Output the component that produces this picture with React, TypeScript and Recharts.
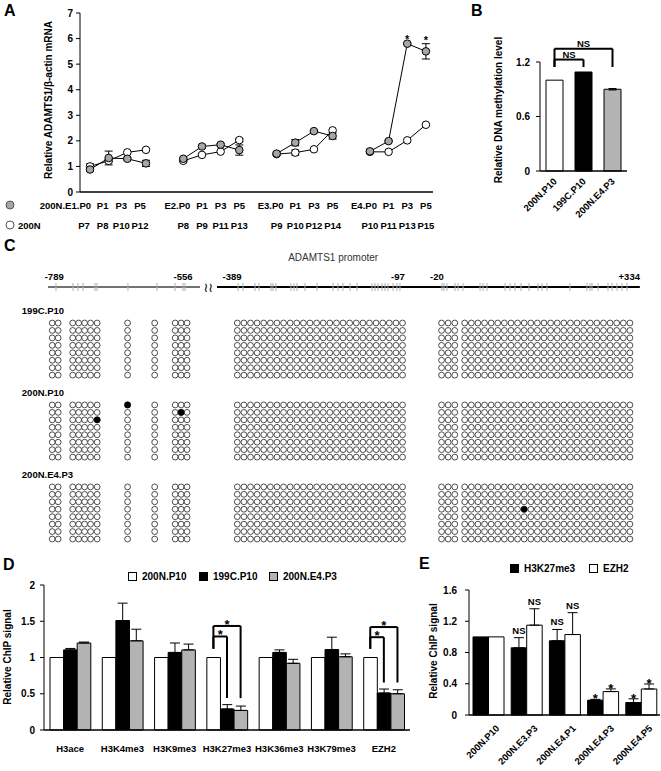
import React from 'react';
import {
  LineChart, Line, XAxis, YAxis, ErrorBar, ReferenceDot, ReferenceLine,
  BarChart, Bar, Cell, ScatterChart, Scatter, LabelList, Legend,
} from 'recharts';

const FONT = '"Liberation Sans", Arial, Helvetica, sans-serif';
const BOLD = { fontFamily: FONT, fontWeight: 700 as const, fill: '#000' };
const GREY_DOT = '#a6a6a6';
const GREY_BAR = '#b3b3b3';

/* ---------------- Panel A data ---------------- */
const aStages = ['E1', 'E2', 'E3', 'E4'];
const aPassages = ['P0', 'P1', 'P3', 'P5'];
const aPassages200N = [
  ['P7', 'P8', 'P10', 'P12'],
  ['P8', 'P9', 'P11', 'P13'],
  ['P9', 'P10', 'P12', 'P14'],
  ['P10', 'P11', 'P13', 'P15'],
];
const aMrna200NE = [
  [0.88, 1.33, 1.3, 1.12],
  [1.3, 1.78, 1.85, 1.64],
  [1.5, 1.93, 2.38, 2.19],
  [1.59, 1.99, 5.8, 5.5],
];
const aMrna200NEErr = [
  [0.06, 0.27, 0.05, 0.12],
  [0.05, 0.06, 0.05, 0.2],
  [0.06, 0.12, 0.05, 0.12],
  [0.08, 0.04, 0.03, 0.3],
];
const aMrna200N = [
  [1.0, 1.22, 1.55, 1.65],
  [1.22, 1.45, 1.58, 2.03],
  [1.48, 1.54, 1.67, 2.41],
  [1.57, 1.57, 2.02, 2.63],
];
const aMrna200NErr = [
  [0.1, 0.05, 0, 0],
  [0.04, 0, 0, 0.06],
  [0, 0.1, 0, 0],
  [0, 0, 0, 0],
];
const aStarPoints = [[3, 2], [3, 3]];

/* ---------------- Panel B data ---------------- */
const bSamples = ['200N.P10', '199C.P10', '200N.E4.P3'];
const bLevel = [1.0, 1.09, 0.9];
const bErr = [0, 0, 0.008];
const bColors = ['#ffffff', '#000000', GREY_BAR];
const bBrackets = [
  { from: 0, to: 1, top: 1.227, foot: 1.145, label: 'NS' },
  { from: 0, to: 2, top: 1.347, foot: 1.145, label: 'NS' },
];

/* ---------------- Panel C data ---------------- */
const cSamples = ['199C.P10', '200N.P10', '200N.E4.P3'];
const cClones = 8;
const cColumnsRegion1 = [7.9, 8.8, 11.0, 11.9, 12.8, 13.7, 14.7, 19.3, 23.4, 26.5, 27.4, 28.3];
const cColumnsRegion2 = [
  35.9, 36.9, 37.9, 38.9, 39.9, 40.9, 41.9, 42.9, 43.9, 44.9, 45.9, 46.9, 47.9,
  48.9, 49.9, 50.9, 51.9, 52.9, 53.9, 54.9, 55.9, 56.9, 57.9, 58.9, 59.9, 60.9,
];
const cColumnsRegion3 = [
  66.8, 67.8, 68.8,
  70.3, 71.3, 72.3, 73.3, 74.3, 75.3, 76.3, 77.3, 78.3, 79.3, 80.3, 81.3, 82.3,
  83.3, 84.3, 85.3, 86.3, 87.3, 88.3, 89.3, 90.3, 91.3, 92.3, 93.3, 94.3, 95.3,
];
const cMethylated = [
  { sample: 1, clone: 0, col: 19.3 },
  { sample: 1, clone: 1, col: 27.4 },
  { sample: 1, clone: 2, col: 14.7 },
  { sample: 2, clone: 3, col: 79.3 },
];
const cSiteTicks = [
  8.47, 11.04, 11.8, 12.56, 14.37, 14.67, 19.36, 23.75, 26.48, 27.69, 27.99,
  36.01, 36.76, 38.58, 39.18, 41.0, 41.3, 41.75, 44.02, 44.48, 44.93, 46.14, 47.96,
  50.38, 51.13, 51.89, 52.95, 54.01, 56.28, 56.73, 57.19, 57.79, 58.25, 58.7, 59.46,
  60.06, 60.51,
  66.87, 67.17, 67.62, 68.84, 69.29, 70.05, 72.62, 73.07, 73.68, 76.4, 77.16, 77.91,
  78.82, 80.03, 81.39, 82.0, 82.75, 86.23, 88.8, 89.26, 89.56, 90.47, 91.98, 92.59,
  93.34, 94.1, 94.86,
];
const cPositionLabels = ['-789', '-556', '-389', '-97', '-20', '+334'];
const cPositionAt = [8.2, 27.7, 35.1, 60.2, 66.1, 95.2];
const cPromoterTitle = 'ADAMTS1 promoter';

/* ---------------- Panel D data ---------------- */
const dMarks = ['H3ace', 'H3K4me3', 'H3K9me3', 'H3K27me3', 'H3K36me3', 'H3K79me3', 'EZH2'];
const dSeries = ['200N.P10', '199C.P10', '200N.E4.P3'];
const d200NP10 = [1, 1, 1, 1, 1, 1, 1];
const d199CP10 = [1.105, 1.51, 1.07, 0.29, 1.07, 1.11, 0.51];
const d199CP10Err = [0.02, 0.24, 0.13, 0.06, 0.035, 0.17, 0.055];
const d200NE4P3 = [1.2, 1.23, 1.105, 0.27, 0.92, 1.01, 0.5];
const d200NE4P3Err = [0.013, 0.16, 0.08, 0.06, 0.055, 0.04, 0.055];
const dBrackets = [
  { mark: 3, to: 1, top: 1.29, foot: 0.44 },
  { mark: 3, to: 2, top: 1.435, foot: 0.44 },
  { mark: 6, to: 1, top: 1.28, foot: 0.655 },
  { mark: 6, to: 2, top: 1.42, foot: 0.655 },
];
const dBracketBase = 1.12;

/* ---------------- Panel E data ---------------- */
const eSamples = ['200N.P10', '200N.E3.P3', '200N.E4.P1', '200N.E4.P3', '200N.E4.P5'];
const eSeries = ['H3K27me3', 'EZH2'];
const eH3K27 = [1, 0.86, 0.95, 0.19, 0.16];
const eH3K27Err = [0, 0.13, 0.145, 0.01, 0.047];
const eEZH2 = [1, 1.15, 1.03, 0.3, 0.333];
const eEZH2Err = [0, 0.21, 0.28, 0.034, 0.064];
const eH3K27Sig = ['', 'NS', 'NS', '*', '*'];
const eEZH2Sig = ['', 'NS', 'NS', '*', '*'];

/* ================= helpers ================= */
const yLabel = (text: string, x: number, y: number) => ({
  content: () => (
    <text transform={`translate(${x},${y}) rotate(-90)`} textAnchor="middle" fontSize={10} {...BOLD}>
      {text}
    </text>
  ),
});

const bracket = (key: string, x1: number, x2: number, top: number, y1: number, y2: number, xId?: string) => {
  const common: any = { stroke: '#000', strokeWidth: 2, ifOverflow: 'visible' };
  if (xId) common.xAxisId = xId;
  return [
    <ReferenceLine key={key + 'a'} {...common} segment={[{ x: x1, y: y1 }, { x: x1, y: top }]} />,
    <ReferenceLine key={key + 'b'} {...common} segment={[{ x: x1, y: top }, { x: x2, y: top }]} />,
    <ReferenceLine key={key + 'c'} {...common} segment={[{ x: x2, y: top }, { x: x2, y: y2 }]} />,
  ];
};

/* ================= Panel A ================= */
const aRows: any[] = [];
aStages.forEach((_, g) => {
  aPassages.forEach((__, i) => {
    aRows.push({
      x: g * 5 + i,
      grey: aMrna200NE[g][i],
      greyErr: aMrna200NEErr[g][i] || undefined,
      white: aMrna200N[g][i],
      whiteErr: aMrna200NErr[g][i] || undefined,
    });
  });
  if (g < aStages.length - 1) aRows.push({ x: g * 5 + 4, grey: null, white: null });
});
const aTicks = aRows.filter((r) => r.grey !== null).map((r) => r.x);
const aStars = aStarPoints.map(([g, i]) => ({ x: g * 5 + i, y: aMrna200NE[g][i] + aMrna200NEErr[g][i] }));

const renderATick = (p: any) => {
  const { x: x0, y, payload } = p;
  const v = payload.value as number;
  const g = Math.floor(v / 5);
  const i = v % 5;
  const x = g === 0 ? x0 - 6 : x0;
  const top = i === 0 ? (g === 0 ? '200N.' : '') + aStages[g] + '.' + aPassages[i] : aPassages[i];
  return (
    <g>
      {v === 0 && (
        <g>
          <circle cx={10} cy={y + 13} r={4} fill={GREY_DOT} stroke="#555" strokeWidth={1} />
          <circle cx={10} cy={y + 33} r={4} fill="#fff" stroke="#555" strokeWidth={1} />
          <text x={18} y={y + 37} fontSize={9.5} {...BOLD}>200N</text>
        </g>
      )}
      <text x={i === 0 ? x + 7 : x} y={y + 17} textAnchor={i === 0 ? 'end' : 'middle'} fontSize={9.5} {...BOLD}>
        {top}
      </text>
      <text x={x} y={y + 37} textAnchor="middle" fontSize={9.5} {...BOLD}>
        {aPassages200N[g][i]}
      </text>
    </g>
  );
};

const PanelA = () => (
  <LineChart width={440} height={240} data={aRows} margin={{ top: 13, right: 7, left: 0, bottom: 0 }}>
    <XAxis type="number" dataKey="x" domain={[-0.536, 18.38]} ticks={aTicks} interval={0}
      tick={renderATick} tickLine={false} tickSize={0} tickMargin={0} height={48}
      axisLine={{ stroke: '#000', strokeWidth: 1.6 }} allowDataOverflow />
    <YAxis type="number" domain={[0, 7]} ticks={[0, 1, 2, 3, 4, 5, 6, 7]} width={80} tickSize={4} tickMargin={3}
      axisLine={{ stroke: '#000' }} tickLine={{ stroke: '#000' }}
      tick={{ fontSize: 10, ...BOLD }} label={yLabel('Relative ADAMTS1/\u03b2-actin mRNA', 52, 100)} />
    <Line dataKey="white" stroke="#000" strokeWidth={1} isAnimationActive={false}
      dot={{ r: 3.8, fill: '#fff', stroke: '#000', strokeWidth: 1 }}>
      <ErrorBar dataKey="whiteErr" width={4} stroke="#000" strokeWidth={1} />
    </Line>
    <Line dataKey="grey" stroke="#000" strokeWidth={1} isAnimationActive={false}
      dot={{ r: 3.8, fill: GREY_DOT, stroke: '#000', strokeWidth: 1 }}>
      <ErrorBar dataKey="greyErr" width={4} stroke="#000" strokeWidth={1} />
    </Line>
    {aStars.map((s, k) => (
      <ReferenceDot key={k} x={s.x} y={s.y} r={0} ifOverflow="visible" fill="none" stroke="none"
        label={{ value: '*', position: 'top', offset: 0, fontSize: 11, ...BOLD }} />
    ))}
  </LineChart>
);

/* ================= Panel B ================= */
const bRows = bSamples.map((s, i) => ({ x: i, name: s, v: bLevel[i], err: bErr[i] || undefined }));

const renderBTick = (p: any) => {
  const { x, y, payload } = p;
  return (
    <text transform={`translate(${x + 3},${y + 11}) rotate(-45)`} textAnchor="end" fontSize={9.5} {...BOLD}>
      {bSamples[payload.value]}
    </text>
  );
};

const PanelB = () => (
  <BarChart width={200} height={230} data={bRows} margin={{ top: 62, right: 13, left: 0, bottom: 0 }}>
    <XAxis type="number" dataKey="x" domain={[-0.5, 2.5]} ticks={[0, 1, 2]} interval={0} tick={renderBTick}
      tickLine={false} tickSize={0} tickMargin={0} height={59} axisLine={{ stroke: '#000', strokeWidth: 1.5 }} />
    <YAxis type="number" domain={[0, 1.2]} ticks={[0, 0.6, 1.2]} width={100} tickSize={4} tickMargin={6}
      axisLine={{ stroke: '#000' }} tickLine={{ stroke: '#000' }} tick={{ fontSize: 10, ...BOLD }}
      label={yLabel('Relative DNA methylation level', 62, 110)} />
    <Bar dataKey="v" barSize={17} stroke="#000" strokeWidth={1} isAnimationActive={false}>
      {bRows.map((r, i) => <Cell key={i} fill={bColors[i]} />)}
      <ErrorBar dataKey="err" width={4} stroke="#000" strokeWidth={1} />
    </Bar>
    {bBrackets.map((b, k) => bracket('b' + k, b.from, b.to, b.top, b.foot, b.foot))}
    {bBrackets.map((b, k) => (
      <ReferenceDot key={'bl' + k} x={(b.from + b.to) / 2} y={b.top} r={0} ifOverflow="visible" fill="none" stroke="none"
        label={{ value: b.label, position: 'top', offset: 2, fontSize: 9.5, ...BOLD }} />
    ))}
  </BarChart>
);

/* ================= Panel C ================= */
const cColumns = [...cColumnsRegion1, ...cColumnsRegion2, ...cColumnsRegion3];
const cSampleGap = 11;
const cLineY = -4.83;
const isMethylated = (s: number, r: number, col: number) =>
  cMethylated.some((m) => m.sample === s && m.clone === r && Math.abs(m.col - col) < 0.05);
const cOpen: any[] = [];
const cFilled: any[] = [];
cSamples.forEach((_, s) => {
  for (let r = 0; r < cClones; r++) {
    cColumns.forEach((col) => {
      const pt = { x: col, y: s * cSampleGap + r };
      if (isMethylated(s, r, col)) cFilled.push(pt);
      else cOpen.push(pt);
    });
  }
});
const cTickPts = cSiteTicks.map((x) => ({ x, y: cLineY }));

const PanelC = () => (
  <ScatterChart width={661} height={305} margin={{ top: 0, right: 0, left: 0, bottom: 0 }}>
    <XAxis type="number" dataKey="x" domain={[0, 100]} hide allowDataOverflow />
    <YAxis type="number" dataKey="y" domain={[-11.14, 29.8]} reversed hide allowDataOverflow />
    <ReferenceLine segment={[{ x: 7.26, y: cLineY }, { x: 30.26, y: cLineY }]} stroke="#444" strokeWidth={1.6} ifOverflow="visible" />
    <ReferenceLine segment={[{ x: 32.83, y: cLineY }, { x: 96.8, y: cLineY }]} stroke="#000" strokeWidth={2.2} ifOverflow="visible" />
    <Scatter data={cTickPts} isAnimationActive={false}
      shape={(p: any) => <line x1={p.cx} x2={p.cx} y1={p.cy - 4} y2={p.cy + 4} stroke="#b0b0b0" strokeWidth={1} />} />
    <Scatter data={cOpen} isAnimationActive={false}
      shape={(p: any) => <circle cx={p.cx} cy={p.cy} r={2.9} fill="#fff" stroke="#222" strokeWidth={0.8} />} />
    <Scatter data={cFilled} isAnimationActive={false}
      shape={(p: any) => <circle cx={p.cx} cy={p.cy} r={3.1} fill="#000" stroke="#000" strokeWidth={0.8} />} />
    {cPositionLabels.map((lab, k) => (
      <ReferenceDot key={'pl' + k} x={cPositionAt[k]} y={cLineY} r={0} fill="none" stroke="none" ifOverflow="visible"
        label={{ value: lab, position: 'top', offset: 7, fontSize: 9.5, ...BOLD }} />
    ))}
    <ReferenceDot x={31.47} y={cLineY} r={0} fill="none" stroke="none" ifOverflow="visible"
      label={{ value: '\u2240\u2240', position: 'center', fontSize: 13, fill: '#000', fontFamily: 'DejaVu Sans' }} />
    <ReferenceDot x={50.4} y={-8.86} r={0} fill="none" stroke="none" ifOverflow="visible"
      label={{ value: cPromoterTitle, position: 'center', fontSize: 10, fill: '#333', fontFamily: FONT }} />
    {cSamples.map((s, k) => (
      <ReferenceDot key={'sl' + k} x={3.3} y={k * cSampleGap - 1.61} r={0} fill="none" stroke="none" ifOverflow="visible"
        label={{ value: s, position: 'right', offset: 0, fontSize: 9.5, ...BOLD }} />
    ))}
  </ScatterChart>
);

/* ================= Panel D ================= */
const D_UNIT = 366 / 7;
const D_BAR = 13.6;
const dOff = (k: number) => ((k - 1) * D_BAR) / D_UNIT;
const dRows = dMarks.map((m, i) => ({
  x: i,
  a: d200NP10[i],
  b: d199CP10[i],
  bErr: [0, d199CP10Err[i]],
  c: d200NE4P3[i],
  cErr: [0, d200NE4P3Err[i]],
}));
const dColors = ['#ffffff', '#000000', GREY_BAR];

const boxStyle = (fill: string): React.CSSProperties => ({
  display: 'inline-block', width: 7, height: 7, border: '1.2px solid #000', background: fill, marginRight: 5,
});
const makeLegend = (names: string[], colors: string[], offsets: number[]) => () => (
  <div style={{ position: 'relative', height: 12, fontFamily: FONT, fontSize: 10, fontWeight: 700, color: '#000' }}>
    {names.map((n, k) => (
      <div key={n} style={{ position: 'absolute', left: offsets[k], top: 0, display: 'flex', alignItems: 'center', whiteSpace: 'nowrap' }}>
        <span style={boxStyle(colors[k])} />
        <span>{n}</span>
      </div>
    ))}
  </div>
);

const PanelD = () => (
  <BarChart width={420} height={200} data={dRows} barGap={0} margin={{ top: 15, right: 10, left: 0, bottom: 0 }}>
    <XAxis xAxisId="sep" type="number" dataKey="x" domain={[-0.5, 6.5]} ticks={[-0.5, 0.5, 1.5, 2.5, 3.5, 4.5, 5.5, 6.5]}
      tick={false} axisLine={false} tickLine={{ stroke: '#000' }} tickSize={4} height={0} />
    <XAxis xAxisId="cat" type="number" dataKey="x" domain={[-0.5, 6.5]} ticks={[0, 1, 2, 3, 4, 5, 6]} interval={0}
      tickFormatter={(v: number) => dMarks[v]} tickLine={false} tickSize={0} tickMargin={15} height={40}
      axisLine={{ stroke: '#000', strokeWidth: 1.5 }} tick={{ fontSize: 9.5, ...BOLD }} />
    <YAxis type="number" domain={[0, 2]} ticks={[0, 0.5, 1, 1.5, 2]} width={44} tickSize={4} tickMargin={5}
      axisLine={{ stroke: '#000' }} tickLine={{ stroke: '#000' }} tick={{ fontSize: 10, ...BOLD }}
      label={yLabel('Relative ChIP signal', 11, 87)} />
    <Legend layout="horizontal" verticalAlign="middle" align="center"
      wrapperStyle={{ top: 1, left: 128, width: 260 }}
      content={makeLegend(dSeries, dColors, [0, 71, 141])} />
    <Bar xAxisId="cat" dataKey="a" barSize={D_BAR} fill={dColors[0]} stroke="#000" strokeWidth={1} isAnimationActive={false} />
    <Bar xAxisId="cat" dataKey="b" barSize={D_BAR} fill={dColors[1]} stroke="#000" strokeWidth={1} isAnimationActive={false}>
      <ErrorBar dataKey="bErr" width={5} stroke="#000" strokeWidth={1} />
    </Bar>
    <Bar xAxisId="cat" dataKey="c" barSize={D_BAR} fill={dColors[2]} stroke="#000" strokeWidth={1} isAnimationActive={false}>
      <ErrorBar dataKey="cErr" width={5} stroke="#000" strokeWidth={1} />
    </Bar>
    {dBrackets.map((b, k) =>
      bracket('d' + k, b.mark + dOff(0), b.mark + dOff(b.to), b.top, dBracketBase, b.foot, 'cat'))}
    {dBrackets.map((b, k) => (
      <ReferenceDot key={'ds' + k} xAxisId="cat" x={b.mark + (dOff(0) + dOff(b.to)) / 2} y={b.top} r={0}
        fill="none" stroke="none" ifOverflow="visible"
        label={{ value: '*', position: 'top', offset: -3, fontSize: 13, ...BOLD }} />
    ))}
  </BarChart>
);

/* ================= Panel E ================= */
const eRows = eSamples.map((s, i) => ({
  x: i,
  k27: eH3K27[i],
  k27Err: eH3K27Err[i] ? [0, eH3K27Err[i]] : undefined,
  ezh2: eEZH2[i],
  ezh2Err: eEZH2Err[i] ? [0, eEZH2Err[i]] : undefined,
}));

const sigLabel = (vals: number[], errs: number[], sigs: string[]) => (p: any) => {
  const idx = p.index;
  const s = sigs[idx];
  if (!s) return null;
  const vb = p.viewBox && p.viewBox.width != null ? p.viewBox : p;
  const { x, y, width, height } = vb;
  const top = y - (errs[idx] * height) / vals[idx];
  const star = s === '*';
  return (
    <text key={'sig' + idx} x={x + width / 2} y={star ? top + 4 : top - 4} textAnchor="middle"
      fontSize={star ? 13 : 9.5} {...BOLD}>
      {s}
    </text>
  );
};

const renderETick = (p: any) => {
  const { x, y, payload } = p;
  return (
    <text transform={`translate(${x + 12},${y + 14}) rotate(-45)`} textAnchor="end" fontSize={9.5} {...BOLD}>
      {eSamples[payload.value]}
    </text>
  );
};

const PanelE = () => (
  <BarChart width={241} height={216} data={eRows} barGap={0} margin={{ top: 35, right: 1, left: 0, bottom: 0 }}>
    <XAxis xAxisId="sep" type="number" dataKey="x" domain={[-0.5, 4.5]} ticks={[-0.5, 0.5, 1.5, 2.5, 3.5, 4.5]}
      tick={false} axisLine={false} tickLine={{ stroke: '#000' }} tickSize={4} height={0} />
    <XAxis xAxisId="cat" type="number" dataKey="x" domain={[-0.5, 4.5]} ticks={[0, 1, 2, 3, 4]} interval={0}
      tick={renderETick} tickLine={false} tickSize={0} tickMargin={0} height={56}
      axisLine={{ stroke: '#000', strokeWidth: 1.5 }} />
    <YAxis type="number" domain={[0, 1.6]} ticks={[0, 0.4, 0.8, 1.2, 1.6]} width={49} tickSize={4} tickMargin={8}
      axisLine={{ stroke: '#000' }} tickLine={{ stroke: '#000' }} tick={{ fontSize: 10, ...BOLD }}
      label={yLabel('Relative ChIP signal', 17, 96)} />
    <Legend layout="horizontal" verticalAlign="middle" align="center"
      wrapperStyle={{ top: 8, left: 90, width: 150 }}
      content={makeLegend(eSeries, ['#000000', '#ffffff'], [0, 79])} />
    <Bar xAxisId="cat" dataKey="k27" barSize={15.5} fill="#000" stroke="#000" strokeWidth={1} isAnimationActive={false}>
      <ErrorBar dataKey="k27Err" width={5} stroke="#000" strokeWidth={1} />
      <LabelList dataKey="k27" content={sigLabel(eH3K27, eH3K27Err, eH3K27Sig)} />
    </Bar>
    <Bar xAxisId="cat" dataKey="ezh2" barSize={15.5} fill="#fff" stroke="#000" strokeWidth={1} isAnimationActive={false}>
      <ErrorBar dataKey="ezh2Err" width={5} stroke="#000" strokeWidth={1} />
      <LabelList dataKey="ezh2" content={sigLabel(eEZH2, eEZH2Err, eEZH2Sig)} />
    </Bar>
  </BarChart>
);

/* ================= App ================= */
const letter = (t: string, left: number, top: number) => (
  <div style={{ position: 'absolute', left, top, fontFamily: FONT, fontWeight: 700, fontSize: 16, lineHeight: '16px', color: '#000' }}>
    {t}
  </div>
);

export default function App() {
  return (
    <div style={{ position: 'absolute', left: 0, top: 0, width: 661, height: 771, background: '#fff', overflow: 'hidden' }}>
      <div style={{ position: 'absolute', left: 0, top: 0 }}><PanelA /></div>
      <div style={{ position: 'absolute', left: 440, top: 0 }}><PanelB /></div>
      <div style={{ position: 'absolute', left: 0, top: 240 }}><PanelC /></div>
      <div style={{ position: 'absolute', left: 0, top: 570 }}><PanelD /></div>
      <div style={{ position: 'absolute', left: 420, top: 555 }}><PanelE /></div>
      {letter('A', 4, 3)}
      {letter('B', 471, 3)}
      {letter('C', 4, 238)}
      {letter('D', 3, 557)}
      {letter('E', 419, 556)}
    </div>
  );
}
